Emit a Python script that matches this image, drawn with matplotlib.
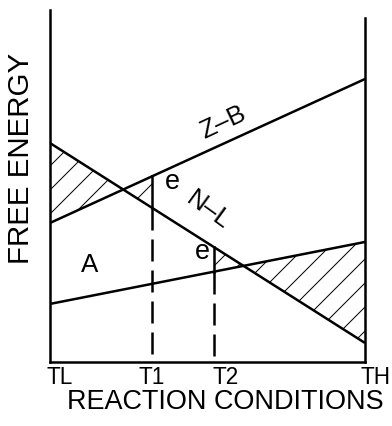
import numpy as np
import matplotlib
matplotlib.use("Agg")
import matplotlib.pyplot as plt

plt.rcParams['font.family'] = ['Liberation Sans', 'DejaVu Sans']
plt.rcParams['hatch.linewidth'] = 1.0

# Data: free energy of each phase at TL (x=0) and TH (x=10)
cond_ends = [0.0, 10.0]
nl_ends = [6.22, 0.54]   # N-L
zb_ends = [3.95, 8.04]   # Z-B
a_ends = [1.65, 3.41]    # A
t1 = 3.24
t2 = 5.20
tick_pos = [0.0, t1, t2, 10.0]
tick_labels = ["TL", "T1", "T2", "TH"]

DPI = 72
fig = plt.figure(figsize=(392 / DPI, 426 / DPI), dpi=DPI)
ax = fig.add_axes([50 / 392, 64 / 426, 315 / 392, 352 / 426])
ax.set_xlim(0, 10)
ax.set_ylim(0, 10)

x = np.linspace(0, 10, 2001)
nl = np.interp(x, cond_ends, nl_ends)
zb = np.interp(x, cond_ends, zb_ends)
a = np.interp(x, cond_ends, a_ends)

lw = 2.5
ax.plot(cond_ends, nl_ends, color='black', lw=lw, solid_capstyle='butt')
ax.plot(cond_ends, zb_ends, color='black', lw=lw, solid_capstyle='butt')
ax.plot(cond_ends, a_ends, color='black', lw=lw, solid_capstyle='butt')

# hatched regions
ax.fill_between(x, nl, zb, where=x <= t1, interpolate=True,
                facecolor='none', edgecolor='black', hatch='/', linewidth=0)
ax.fill_between(x, nl, a, where=x >= t2, interpolate=True,
                facecolor='none', edgecolor='black', hatch='/', linewidth=0)

# vertical markers at T1 and T2
nl_t1 = np.interp(t1, cond_ends, nl_ends)
zb_t1 = np.interp(t1, cond_ends, zb_ends)
nl_t2 = np.interp(t2, cond_ends, nl_ends)
a_t2 = np.interp(t2, cond_ends, a_ends)
ax.plot([t1, t1], [zb_t1, nl_t1], color='black', lw=lw)
ax.plot([t1, t1], [nl_t1, 0], color='black', lw=lw, dashes=(8.8, 3.6))
ax.plot([t2, t2], [nl_t2, a_t2], color='black', lw=lw)
ax.plot([t2, t2], [a_t2, 0], color='black', lw=lw, dashes=(8.8, 3.6))

# spines
ax.spines['top'].set_visible(False)
for s in ['left', 'right', 'bottom']:
    ax.spines[s].set_linewidth(2.5)
ax.spines['right'].set_bounds(0, 9.77)
ax.set_yticks([])
ax.set_xticks([])

# tick labels along the condition axis
tick_ha = ['left', 'center', 'left', 'left']
tick_dx = [-0.1, 0.0, -0.03, -0.13]
xt = ax.get_xaxis_transform()
for p, lab, h, dx in zip(tick_pos, tick_labels, tick_ha, tick_dx):
    ax.text(p + dx, -0.012, lab, fontsize=22.5, ha=h, va='top', transform=xt,
            clip_on=False)

# phase labels
ax.text(5.49, 6.80, "Z–B", fontsize=26, rotation=25, ha='center', va='center')
ax.text(5.02, 4.32, "N–L", fontsize=26, rotation=-36, ha='center', va='center')
ax.text(3.9, 5.12, "e", fontsize=27, ha='center', va='center')
ax.text(4.83, 3.13, "e", fontsize=27, ha='center', va='center')
ax.text(1.27, 2.76, "A", fontsize=26, ha='center', va='center')

fig.text(21 / 392, 1 - 158 / 426, "FREE ENERGY", fontsize=29.5, rotation=90,
         ha='center', va='center')
fig.text(225 / 392, 1 - 402 / 426, "REACTION CONDITIONS", fontsize=27,
         ha='center', va='center')

fig.savefig("out.png", dpi=DPI)
